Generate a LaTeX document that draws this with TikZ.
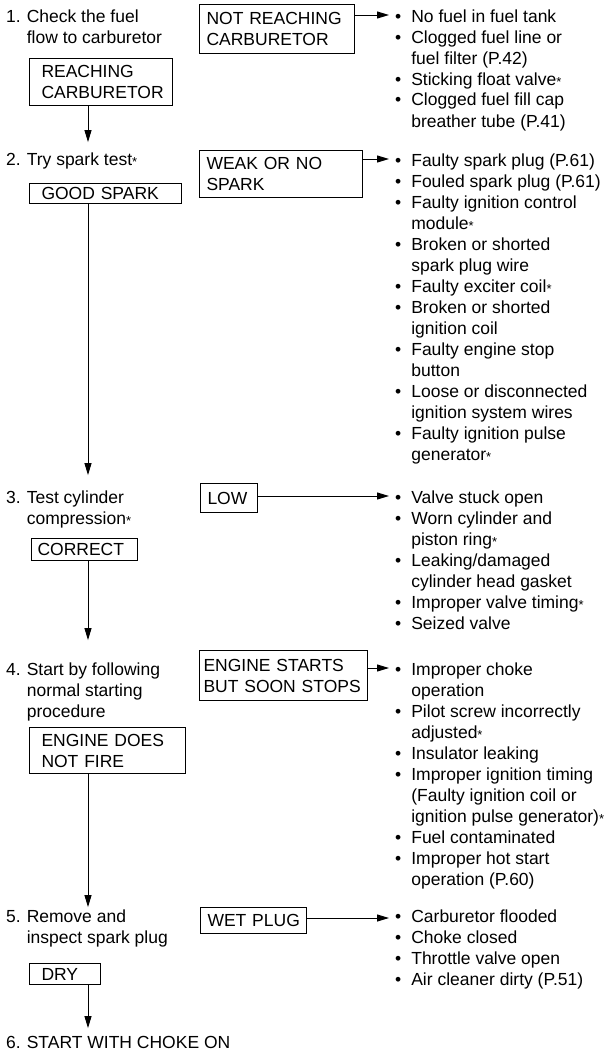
\documentclass[tikz,border=0pt]{standalone}
\usepackage{fontspec}
\setmainfont{Liberation Sans}
\usetikzlibrary{arrows.meta,calc}
\newcommand{\starmark}{\raisebox{-1.5pt}{\fontsize{13}{13}\selectfont *}}

\begin{document}
\begin{tikzpicture}[x=1pt,y=-1pt,
    font=\fontsize{17.5}{21}\selectfont,
    lbox/.style={draw, line width=1pt, anchor=north west, align=left,
                 inner xsep=12pt, inner ysep=0pt},
    rbox/.style={lbox, inner xsep=7pt},
    steptext/.style={anchor=base west, inner sep=0pt},
    causes/.style={anchor=base west, inner xsep=6pt, inner ysep=0pt},
    link/.style={line width=1pt, -{Triangle[length=12pt,width=7pt]}}]

    \useasboundingbox (0,0) rectangle (604,1052);
    \coordinate (spine) at (88,0);

    % 1. fuel flow
    \node[steptext] (s1) at (6,22) {\begin{tabular}[t]{@{}l@{\hspace{6pt}}l@{}}
        1. & Check the fuel\\ & flow to carburetor\end{tabular}};
    \node[rbox, text width=141pt, minimum height=49pt] (nr) at (199,4) {NOT REACHING\\CARBURETOR};
    \node[lbox, text width=119pt, minimum height=47pt] (rc) at (29,58) {REACHING\\CARBURETOR};
    \node[causes] (l1) at (389,22) {\begin{tabular}[t]{@{}l@{\hspace{10pt}}l@{}}
        • & No fuel in fuel tank\\
        • & Clogged fuel line or\\ & fuel filter (P.42)\\
        • & Sticking float valve\starmark\\
        • & Clogged fuel fill cap\\ & breather tube (P.41)\end{tabular}};

    % 2. spark test
    \node[steptext] (s2) at (6,165) {\begin{tabular}[t]{@{}l@{\hspace{6pt}}l@{}}
        2. & Try spark test\starmark\end{tabular}};
    \node[rbox, text width=149pt, minimum height=47pt] (ws) at (199,150) {WEAK OR NO\\SPARK};
    \node[lbox, text width=128pt, minimum height=20pt] (gs) at (29,183) {GOOD SPARK};
    \node[causes] (l2) at (389,166) {\begin{tabular}[t]{@{}l@{\hspace{10pt}}l@{}}
        • & Faulty spark plug (P.61)\\
        • & Fouled spark plug (P.61)\\
        • & Faulty ignition control\\ & module\starmark\\
        • & Broken or shorted\\ & spark plug wire\\
        • & Faulty exciter coil\starmark\\
        • & Broken or shorted\\ & ignition coil\\
        • & Faulty engine stop\\ & button\\
        • & Loose or disconnected\\ & ignition system wires\\
        • & Faulty ignition pulse\\ & generator\starmark\end{tabular}};

    % 3. compression
    \node[steptext] (s3) at (6,503) {\begin{tabular}[t]{@{}l@{\hspace{6pt}}l@{}}
        3. & Test cylinder\\ & compression\starmark\end{tabular}};
    \node[rbox, text width=43pt, minimum height=29pt] (low) at (200,483) {LOW};
    \node[lbox, inner xsep=6pt, text width=94pt, minimum height=22pt] (co) at (31,538) {CORRECT};
    \node[causes] (l3) at (389,503) {\begin{tabular}[t]{@{}l@{\hspace{10pt}}l@{}}
        • & Valve stuck open\\
        • & Worn cylinder and\\ & piston ring\starmark\\
        • & Leaking/damaged\\ & cylinder head gasket\\
        • & Improper valve timing\starmark\\
        • & Seized valve\end{tabular}};

    % 4. normal start
    \node[steptext] (s4) at (6,675) {\begin{tabular}[t]{@{}l@{\hspace{6pt}}l@{}}
        4. & Start by following\\ & normal starting\\ & procedure\end{tabular}};
    \node[rbox, inner xsep=4pt, text width=160pt, minimum height=50pt] (es) at (199,650) {ENGINE STARTS\\BUT~SOON~STOPS};
    \node[lbox, text width=132pt, minimum height=46pt] (ed) at (29,727) {ENGINE DOES\\NOT FIRE};
    \node[causes] (l4) at (389,675) {\begin{tabular}[t]{@{}l@{\hspace{10pt}}l@{}}
        • & Improper choke\\ & operation\\
        • & Pilot screw incorrectly\\ & adjusted\starmark\\
        • & Insulator leaking\\
        • & Improper ignition timing\\ & (Faulty ignition coil or\\ & ignition pulse generator)\starmark\\
        • & Fuel contaminated\\
        • & Improper hot start\\ & operation (P.60)\end{tabular}};

    % 5. spark plug
    \node[steptext] (s5) at (6,922) {\begin{tabular}[t]{@{}l@{\hspace{6pt}}l@{}}
        5. & Remove and\\ & inspect spark plug\end{tabular}};
    \node[rbox, text width=92pt, minimum height=26pt] (wet) at (200,907) {WET~PLUG};
    \node[lbox, text width=47pt, minimum height=21pt] (dry) at (29,963) {DRY};
    \node[causes] (l5) at (389,922) {\begin{tabular}[t]{@{}l@{\hspace{10pt}}l@{}}
        • & Carburetor flooded\\
        • & Choke closed\\
        • & Throttle valve open\\
        • & Air cleaner dirty (P.51)\end{tabular}};

    % 6. choke
    \node[steptext] (s6) at (6,1048) {\begin{tabular}[t]{@{}l@{\hspace{6pt}}l@{}}
        6. & START WITH CHOKE ON\end{tabular}};

    % arrows to the causes
    \coordinate (a1) at ([yshift=7pt]l1.base west);
    \coordinate (a2) at ([yshift=7pt]l2.base west);
    \coordinate (a3) at ([yshift=7pt]l3.base west);
    \coordinate (a4) at ([yshift=7pt]l4.base west);
    \coordinate (a5) at ([yshift=4pt]l5.base west);
    \draw[link] (nr.east |- a1) -- (a1);
    \draw[link] (ws.east |- a2) -- (a2);
    \draw[link] (low.east |- a3) -- (a3);
    \draw[link] (es.east |- a4) -- (a4);
    \draw[link] (wet.east |- a5) -- (a5);

    % arrows down the steps
    \draw[link, shorten >=8pt] (rc.south -| spine) -- (s2.north -| spine);
    \draw[link, shorten >=13pt] (gs.south -| spine) -- (s3.north -| spine);
    \draw[link, shorten >=20pt] (co.south -| spine) -- (s4.north -| spine);
    \draw[link] (ed.south -| spine) -- (s5.north -| spine);
    \draw[link, shorten >=5pt] (dry.south -| spine) -- (s6.north -| spine);
\end{tikzpicture}
\end{document}
